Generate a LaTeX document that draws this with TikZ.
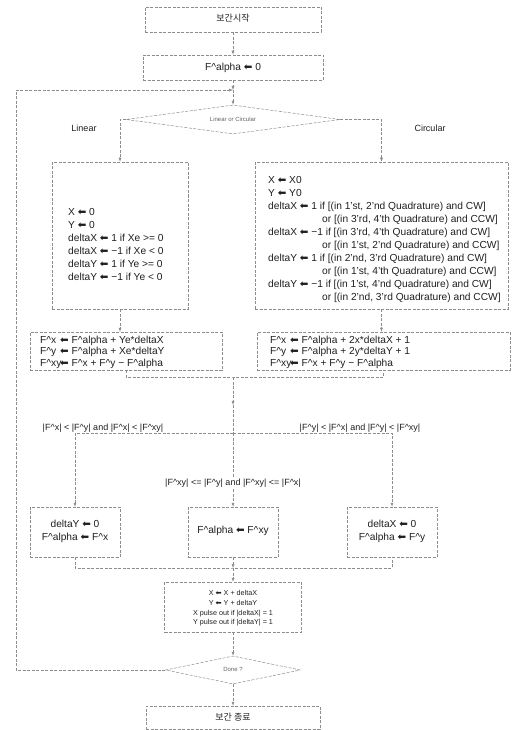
\documentclass[tikz,border=0pt]{standalone}
\usepackage{fontspec}
\setmainfont{Liberation Sans}
\newfontfamily\krfont{Noto Sans CJK KR}
\newfontfamily\arrfont{DejaVu Sans}
\usetikzlibrary{arrows.meta,shapes.geometric}
\newcommand{\LA}{{\arrfont\char"2B05}}
\newcommand{\ca}{\textasciicircum}
\definecolor{linec}{gray}{0.55}
\definecolor{textc}{gray}{0.12}
\begin{document}
\begin{tikzpicture}[x=1pt,y=-1pt,
  flow/.style={draw=linec, dash pattern=on 3pt off 1.5pt, line width=0.5pt},
  box/.style={flow, rectangle, inner sep=0pt},
  dia/.style={flow, diamond, inner sep=0pt},
  arr/.style={flow, -{Latex[length=4pt,width=3pt]}},
  ln/.style={flow},
  txt/.style={text=textc, inner sep=0pt, align=left, font=\fontsize{10.2}{13}\selectfont},
  calc/.style={text=textc, inner sep=0pt, align=left, font=\fontsize{10.2}{11.5}\selectfont},
  lbl/.style={text=textc, inner sep=0pt, font=\fontsize{9}{11}\selectfont},
  small/.style={text=textc, inner sep=0pt, align=center, font=\fontsize{7.2}{9.7}\selectfont},
  tiny/.style={text=textc!70, inner sep=0pt, font=\fontsize{6}{7}\selectfont},
  kr/.style={text=textc, inner sep=0pt, font=\krfont\fontsize{9}{11}\selectfont}
]
\useasboundingbox (0,0) rectangle (513,730);

% boxes
\node[box, minimum width=176pt, minimum height=25pt] (start) at (233,19.5) {};
\node[kr] (starttxt) at (233,18) {보간시작};
\node[box, minimum width=180pt, minimum height=25pt] (alpha0) at (233,67.5) {};
\node[txt] (alpha0txt) at (233,68) {F\ca alpha \LA\ 0};
\coordinate (J1) at (233,90);
\node[dia, minimum width=214pt, minimum height=29pt] (d1) at (233,119.5) {};
\node[tiny] (d1txt) at (233,119) {Linear or Circular};
\node[lbl] (linlbl) at (84,128) {Linear};
\node[lbl] (cirlbl) at (430,128) {Circular};

\node[box, minimum width=136pt, minimum height=147pt] (linbox) at (120,235.5) {};
\node[txt, anchor=north west] (lintxt) at (68,208) {X \LA\ 0\\Y \LA\ 0\\deltaX \LA\ 1 if Xe >= 0\\deltaX \LA\ −1 if Xe < 0\\deltaY \LA\ 1 if Ye >= 0\\deltaY \LA\ −1 if Ye < 0};

\node[box, minimum width=253pt, minimum height=147pt] (cirbox) at (381.5,235.5) {};
\node[txt, anchor=north west] (cirtxt) at (268,176) {X \LA\ X0\\Y \LA\ Y0\\
deltaX \LA\ 1 if [(in 1'st, 2'nd Quadrature) and CW]\\
\phantom{deltaX \LA\ 1 i}or [(in 3'rd, 4'th Quadrature) and CCW]\\
deltaX \LA\ −1 if [(in 3'rd, 4'th Quadrature) and CW]\\
\phantom{deltaX \LA\ 1 i}or [(in 1'st, 2'nd Quadrature) and CCW]\\
deltaY \LA\ 1 if [(in 2'nd, 3'rd Quadrature) and CW]\\
\phantom{deltaX \LA\ 1 i}or [(in 1'st, 4'th Quadrature) and CCW]\\
deltaY \LA\ −1 if [(in 1'st, 4'nd Quadrature) and CW]\\
\phantom{deltaX \LA\ 1 i}or [(in 2'nd, 3'rd Quadrature) and CCW]};

\node[box, minimum width=192pt, minimum height=38pt] (lincalc) at (126,351) {};
\node[calc, anchor=west] (lincalctxt) at (40,352) {\makebox[20pt][l]{F\ca x}\LA\ F\ca alpha + Ye*deltaX\\\makebox[20pt][l]{F\ca y}\LA\ F\ca alpha + Xe*deltaY\\\makebox[20pt][l]{F\ca xy}\LA\ F\ca x + F\ca y − F\ca alpha};
\node[box, minimum width=253pt, minimum height=38pt] (circalc) at (383.5,351) {};
\node[calc, anchor=west] (circalctxt) at (270,352) {\makebox[20pt][l]{F\ca x}\LA\ F\ca alpha + 2x*deltaX + 1\\\makebox[20pt][l]{F\ca y}\LA\ F\ca alpha + 2y*deltaY + 1\\\makebox[20pt][l]{F\ca xy}\LA\ F\ca x + F\ca y − F\ca alpha};

\coordinate (M1) at (233,377);
\coordinate (J2) at (233,405);
\coordinate (J3) at (233,433);
\node[lbl] (condL) at (103,428) {|F\ca x| < |F\ca y| and |F\ca x| < |F\ca xy|};
\node[lbl] (condR) at (360,428) {|F\ca y| < |F\ca x| and |F\ca y| < |F\ca xy|};
\node[lbl, fill=white, inner sep=2pt] (condC) at (233,483) {|F\ca xy| <= |F\ca y| and |F\ca xy| <= |F\ca x|};

\node[box, minimum width=90pt, minimum height=50pt] (boxL) at (75,532) {};
\node[txt, align=center] (boxLtxt) at (75,531.5) {deltaY \LA\ 0\\F\ca alpha \LA\ F\ca x};
\node[box, minimum width=90pt, minimum height=50pt] (boxC) at (233,532) {};
\node[txt, align=center] (boxCtxt) at (233,531) {F\ca alpha \LA\ F\ca xy};
\node[box, minimum width=90pt, minimum height=50pt] (boxR) at (392,532) {};
\node[txt, align=center] (boxRtxt) at (392,531.5) {deltaX \LA\ 0\\F\ca alpha \LA\ F\ca y};

\coordinate (M2) at (233,568);
\node[box, minimum width=137pt, minimum height=50pt] (upd) at (233,607) {};
\node[small] (updtxt) at (233,608.5) {X \LA\ X + deltaX\\Y \LA\ Y + deltaY\\X pulse out if |deltaX| = 1\\Y pulse out if |deltaY| = 1};

\node[dia, minimum width=135pt, minimum height=28pt] (d2) at (233,670) {};
\node[tiny] (d2txt) at (233,669.5) {Done ?};
\node[box, minimum width=174pt, minimum height=23pt] (endt) at (233,717.5) {};
\node[kr] (endtxt) at (233,717) {보간 종료};

\coordinate (LL1) at (16,670);
\coordinate (LL2) at (16,90);

% connectors
\draw[arr] (start) -- (alpha0);
\draw[arr] (alpha0) -- (J1);
\draw[arr] (J1) -- (d1);
\draw[arr] (d1.west) -| (linbox.north);
\draw[arr] (d1.east) -| (cirbox.north);
\draw[arr] (linbox.south) -- (linbox.south |- lincalc.north);
\draw[arr] (cirbox.south) -- (cirbox.south |- circalc.north);
\draw[ln] (lincalc.south) |- (M1) -| (circalc.south);
\draw[arr] (M1) -- (J2);
\draw[ln] (J2) -- (J3);
\draw[arr] (J3) -| (boxL.north);
\draw[arr] (J3) -| (boxR.north);
\draw[ln] (J3) -- (condC.north);
\draw[arr] (condC.south) -- (boxC.north);
\draw[ln] (boxL.south) |- (M2) -| (boxR.south);
\draw[arr] (boxC.south) -- (M2);
\draw[arr] (M2) -- (upd.north);
\draw[arr] (upd.south) -- (d2.north);
\draw[arr] (d2.south) -- (endt.north);
\draw[arr] (d2.west) -- (LL1) -- (LL2) -- (J1);
\end{tikzpicture}
\end{document}
